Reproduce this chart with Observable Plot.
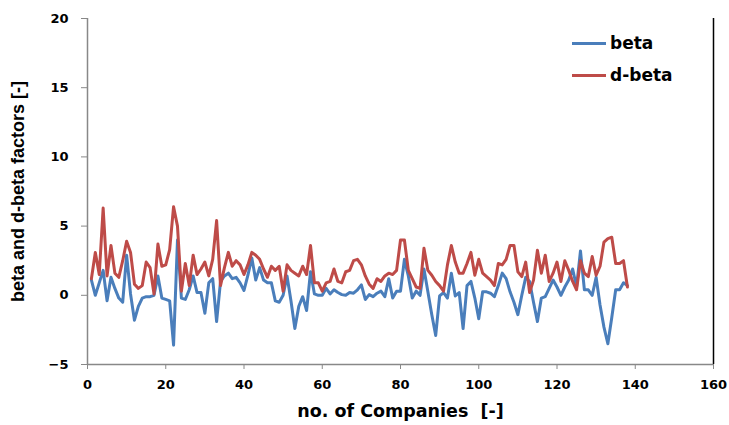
<!DOCTYPE html>
<html>
<head>
<meta charset="utf-8">
<script src="https://cdn.jsdelivr.net/npm/d3@7"></script>
<script src="https://cdn.jsdelivr.net/npm/@observablehq/plot@0.6"></script>
<style>
  body { margin: 0; background: #fff; }
  #chart { position: relative; width: 729px; height: 425px; }
  #chart svg text { font-family: "DejaVu Sans", sans-serif; font-weight: bold; }
  #chart g[aria-label="y-axis label"] text { font-family: "Liberation Sans", Arial, sans-serif; font-size: 18px; }
  #chart g[aria-label="x-axis label"] text { font-size: 17.5px; }
  .legend { position: absolute; left: 572px; font: bold 17px "DejaVu Sans", sans-serif; color: #000; display: flex; align-items: center; }
  .legend span.sw { display: inline-block; width: 34px; height: 3px; margin-right: 4px; }
</style>
</head>
<body>
<div id="chart"></div>
<script>
const companies = d3.range(1, 139);
const beta = [
  1.1, 0.0, 0.9, 1.8, -0.4, 1.3, 0.5, -0.2, -0.5, 2.9,
  0.1, -1.8, -0.8, -0.2, -0.1, -0.1, 0.0, 1.4, -0.2, -0.3,
  -0.4, -3.6, 4.0, -0.2, -0.3, 0.4, 1.4, 0.2, 0.2, -1.3,
  0.9, 1.2, -1.9, 1.0, 1.4, 1.6, 1.2, 1.3, 0.9, 0.35,
  1.45, 2.7, 1.1, 2.0, 1.1, 0.9, 0.9, -0.4, -0.5, 0.0,
  1.4, -0.4, -2.4, -0.8, -0.1, -1.1, 1.7, 0.1, 0.0, 0.0,
  0.5, 0.1, 0.4, 0.2, 0.05, 0.0, 0.2, 0.15, 0.4, 0.75,
  -0.3, 0.05, -0.1, 0.15, 0.3, -0.1, 1.2, -0.2, 0.3, 0.3,
  2.6, 1.4, -0.2, 0.3, 0.0, 1.9, 0.25, -1.4, -2.9, -0.05,
  0.2, -0.2, 1.6, -0.05, 0.2, -2.4, 0.7, 1.0, -0.2, -1.7,
  0.25, 0.25, 0.15, -0.1, 0.7, 1.6, 1.2, 0.25, -0.5, -1.4,
  0.0, 1.3, 1.0, -0.5, -1.9, -0.2, -0.1, 0.5, 1.1, 0.6,
  0.0, 0.6, 1.1, 1.9, 0.6, 3.2, 0.4, 0.4, 0.0, 1.3,
  -0.7, -2.3, -3.5, -1.6, 0.4, 0.4, 0.9, 0.7
];
const dbeta = [
  1.2, 3.1, 1.5, 6.3, 1.4, 3.6, 1.6, 1.3, 2.5, 3.9,
  3.1, 0.8, 0.5, 0.7, 2.4, 2.0, 0.1, 3.7, 2.1, 2.2,
  3.3, 6.4, 5.0, 0.3, 2.3, 0.7, 2.9, 1.5, 1.9, 2.4,
  1.4, 2.6, 5.4, 0.7, 2.0, 3.1, 2.1, 2.5, 2.2, 1.5,
  2.2, 3.1, 2.9, 2.6, 1.9, 1.3, 2.1, 1.8, 2.1, 0.3,
  2.2, 1.8, 1.6, 1.4, 2.1, 1.5, 3.6, 0.9, 0.9, 0.3,
  0.9, 1.0, 1.9, 1.0, 0.9, 1.7, 1.8, 2.5, 2.6, 2.2,
  1.4, 0.8, 0.5, 1.2, 1.0, 1.4, 1.6, 1.5, 1.8, 4.0,
  4.0, 1.8, 1.2, 0.6, 0.5, 3.4, 1.8, 1.45, 1.0, 0.7,
  0.3, 2.2, 3.6, 2.4, 1.6, 1.6, 2.3, 3.1, 1.45, 2.6,
  1.6, 1.35, 1.1, 0.7, 2.3, 2.2, 2.6, 3.6, 3.6, 1.7,
  1.35, 2.4, 0.2, 1.1, 3.25, 1.6, 2.9, 1.0, 1.6, 2.4,
  1.0, 2.5, 1.8, 1.0, 0.4, 2.5, 1.6, 1.35, 2.8, 1.45,
  2.1, 3.85, 4.1, 4.2, 2.3, 2.3, 2.5, 0.6
];
const xTicks = [0, 20, 40, 60, 80, 100, 120, 140, 160];
const yTicks = [-5, 0, 5, 10, 15, 20];
const seriesNames = ["beta", "d-beta"];
const seriesColors = ["#4a7ebb", "#be4b48"];
const xTitle = "no. of Companies  [-]";
const yTitle = "beta and d-beta factors [-]";

const data = companies.flatMap((c, i) => [
  {company: c, value: beta[i], series: seriesNames[0]},
  {company: c, value: dbeta[i], series: seriesNames[1]}
]);

const xDomain = [xTicks[0], xTicks[xTicks.length - 1]];
const yDomain = [yTicks[0], yTicks[yTicks.length - 1]];

const chart = Plot.plot({
  width: 729,
  height: 425,
  marginLeft: 87,
  marginRight: 16,
  marginTop: 18,
  marginBottom: 61,
  style: {fontSize: "13px", color: "#000", background: "#fff", overflow: "visible"},
  x: {domain: xDomain},
  y: {domain: yDomain},
  color: {domain: seriesNames, range: seriesColors},
  marks: [
    Plot.ruleX([xDomain[1]], {stroke: "#000", strokeWidth: 1.5}),
    Plot.ruleX([xDomain[0]], {stroke: "#888", strokeWidth: 1.5}),
    Plot.ruleY([yDomain[0]], {stroke: "#888", strokeWidth: 1.5}),
    Plot.axisX({ticks: xTicks, tickSize: 5, tickPadding: 10, stroke: "#888", label: xTitle, labelAnchor: "center", labelArrow: "none", labelOffset: 52}),
    Plot.axisY({ticks: yTicks, tickSize: 6, tickPadding: 13, stroke: "#888", label: yTitle, labelAnchor: "center", labelArrow: "none", labelOffset: 76}),
    Plot.line(data, {x: "company", y: "value", stroke: "series", z: "series", strokeWidth: 3})
  ]
});

const host = document.getElementById("chart");
host.appendChild(chart);

const tops = [33, 65];
seriesNames.forEach((name, i) => {
  const d = document.createElement("div");
  d.className = "legend";
  d.style.top = tops[i] + "px";
  d.innerHTML = `<span class="sw" style="background:${seriesColors[i]}"></span><span>${name}</span>`;
  host.appendChild(d);
});
</script>
</body>
</html>
